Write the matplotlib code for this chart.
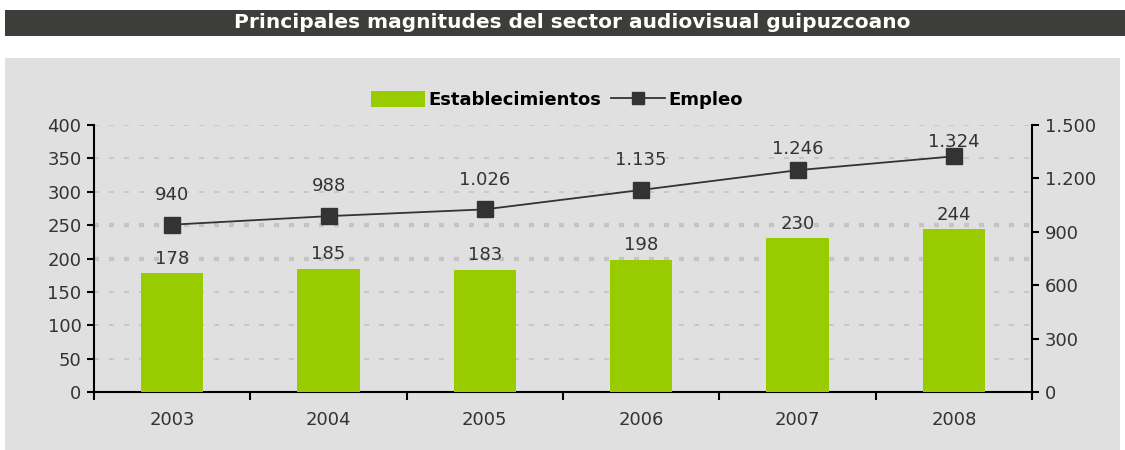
import matplotlib
matplotlib.use("Agg")
import matplotlib.pyplot as plt
from matplotlib.patches import Rectangle
from matplotlib.lines import Line2D
from matplotlib.patches import Patch

years = ["2003", "2004", "2005", "2006", "2007", "2008"]
establecimientos = [178, 185, 183, 198, 230, 244]
empleo = [940, 988, 1026, 1135, 1246, 1324]
left_ticks = [0, 50, 100, 150, 200, 250, 300, 350, 400]
right_ticks = [0, 300, 600, 900, 1200, 1500]
# vertical offsets (points) of the Empleo labels above their markers
empleo_label_offsets = [15, 15, 15, 15, 9, 4]

def fmt(v):
    return f"{v:,}".replace(",", ".")

GREEN = "#99cc00"
DARK = "#333333"
TXT = "#333333"
FS = 13

fig = plt.figure(figsize=(11.25, 4.5), dpi=100)
fig.patch.set_facecolor("white")

# title bar
fig.patches.append(Rectangle((5/1125, 1-36/450), 1120/1125, 26/450, transform=fig.transFigure,
                             facecolor="#3d3e39", edgecolor="none", zorder=-10))
fig.text(572/1125, 1-23/450, "Principales magnitudes del sector audiovisual guipuzcoano",
         color="white", fontsize=14.5, fontweight="bold", ha="center", va="center")
# chart panel
fig.patches.append(Rectangle((5/1125, 0), 1115/1125, 392/450, transform=fig.transFigure,
                             facecolor="#e0e0e0", edgecolor="none", zorder=-10))

ax = fig.add_axes([94/1125, 58/450, 938/1125, 267/450])
ax.set_facecolor("none")
x = list(range(len(years)))
ax.bar(x, establecimientos, width=0.4, color=GREEN, zorder=3)
ax.set_xlim(-0.5, len(years) - 0.5)
ax.set_ylim(0, 400)
ax.set_yticks(left_ticks)
ax.set_yticklabels([str(t) for t in left_ticks])
for yv in left_ticks[1:]:
    if yv in (200, 250):
        ax.axhline(yv, color="#c4c4c4", lw=3.0, ls=(0, (1.2, 2.4)), zorder=1)
    else:
        ax.axhline(yv, color="#c4c4c4", lw=1.2, ls=(0, (3, 6)), zorder=1)

ax.set_xticks([i - 0.5 for i in range(len(years) + 1)])
ax.set_xticklabels([])
ax.set_xticks(x, minor=True)
ax.set_xticklabels(years, minor=True)
ax.tick_params(axis="x", which="major", direction="out", length=6, width=1.5, color="black")
ax.tick_params(axis="x", which="minor", length=0, pad=14, labelsize=FS, labelcolor=TXT)
ax.tick_params(axis="y", direction="out", length=5, width=1.5, labelsize=FS, labelcolor=TXT, pad=4)
for s in ["top", "right"]:
    ax.spines[s].set_visible(False)
for s in ["left", "bottom"]:
    ax.spines[s].set_linewidth(1.5)
    ax.spines[s].set_color("black")

for xi, v in zip(x, establecimientos):
    ax.annotate(str(v), (xi, v), xytext=(0, 4), textcoords="offset points",
                ha="center", va="bottom", fontsize=FS, color=TXT, zorder=5)

ax2 = ax.twinx()
ax2.set_ylim(0, 1500)
ax2.set_yticks(right_ticks)
ax2.set_yticklabels([fmt(t) for t in right_ticks])
ax2.plot(x, empleo, color=DARK, lw=1.3, marker="s", markersize=11, markerfacecolor=DARK,
         markeredgecolor=DARK, zorder=4)
ax2.tick_params(axis="y", direction="out", length=5, width=1.5, labelsize=FS, labelcolor=TXT, pad=4)
for s in ["top", "left", "bottom"]:
    ax2.spines[s].set_visible(False)
ax2.spines["right"].set_linewidth(1.5)
ax2.spines["right"].set_color("black")
for xi, v, off in zip(x, empleo, empleo_label_offsets):
    ax2.annotate(fmt(v), (xi, v), xytext=(0, off), textcoords="offset points",
                 ha="center", va="bottom", fontsize=FS, color=TXT, zorder=5)

handles = [Patch(facecolor=GREEN, edgecolor="none"),
           Line2D([0], [0], color=DARK, lw=1.3, marker="s", markersize=9)]
fig.legend(handles, ["Establecimientos", "Empleo"], loc="center", bbox_to_anchor=(557/1125, 1-100/450),
           ncol=2, frameon=False, handlelength=3.0, handleheight=1.0,
           columnspacing=0.5, handletextpad=0.2, prop={"weight": "bold", "size": 13})

fig.savefig("out.png", dpi=100)
